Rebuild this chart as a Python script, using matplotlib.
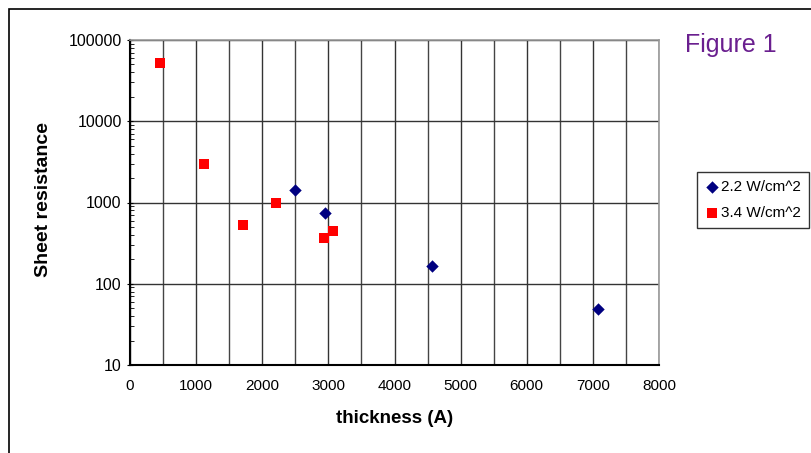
import numpy as np
import matplotlib.pyplot as plt
from matplotlib.patches import Rectangle
from matplotlib.ticker import LogLocator, NullFormatter, FixedLocator

plt.rcParams['font.family'] = ['Liberation Sans', 'DejaVu Sans']

# data
thick_22 = [2495, 2950, 4565, 7075]
rs_22 = [1420, 745, 165, 49]
thick_34 = [455, 1120, 1710, 2210, 2935, 3070]
rs_34 = [52000, 3000, 525, 1000, 365, 445]
labels = ["2.2 W/cm^2", "3.4 W/cm^2"]

fig = plt.figure(figsize=(8.11, 4.53), dpi=100)
ax = fig.add_axes([130/811, 1-365/453, 529/811, 325/453])

# outer chart border
fig.patches.append(Rectangle((9/811, -0.1), 1.0, 1-9/453+0.1, transform=fig.transFigure,
                             fill=False, edgecolor='black', linewidth=1.2))

ax.scatter(thick_22, rs_22, marker='D', s=40, color='#000080', label=labels[0], zorder=3, linewidths=0)
ax.scatter(thick_34, rs_34, marker='s', s=48, color='#ff0000', label=labels[1], zorder=3, linewidths=0)

ax.set_yscale('log')
ax.set_xlim(0, 8000)
ax.set_ylim(10, 100000)
ax.set_xticks(np.arange(0, 8001, 1000))
ax.xaxis.set_minor_locator(FixedLocator(np.arange(500, 8000, 1000)))
ax.yaxis.set_major_locator(LogLocator(base=10, numticks=10))
ax.yaxis.set_minor_locator(LogLocator(base=10, subs=np.arange(2, 10), numticks=10))
ax.yaxis.set_minor_formatter(NullFormatter())
ax.yaxis.set_major_formatter(plt.FuncFormatter(lambda v, p: f"{int(round(v))}"))

ax.grid(True, which='major', axis='both', color='#333333', linewidth=1)
ax.grid(True, which='minor', axis='x', color='#444444', linewidth=1)

ax.tick_params(axis='x', which='both', length=0, pad=10, labelsize=11)
ax.tick_params(axis='y', which='major', length=4, direction='inout', labelsize=11.5, pad=4)
ax.tick_params(axis='y', which='minor', length=3, direction='in')

for side in ['top', 'right']:
    ax.spines[side].set_color('#999999')
    ax.spines[side].set_linewidth(1.2)
for side in ['left', 'bottom']:
    ax.spines[side].set_color('black')
    ax.spines[side].set_linewidth(1.5)

ax.set_xlabel("thickness (A)", fontsize=13.5, fontweight='bold', labelpad=12)
ax.set_ylabel("Sheet resistance", fontsize=14, fontweight='bold')
ax.yaxis.set_label_coords(-0.148, 0.51)

fig.text(731/811, 1-45/453, "Figure 1", color='#6a1f8f', fontsize=18,
         ha='center', va='center')

leg = ax.legend(loc='upper left', bbox_to_anchor=(697/811, 1-172/453), bbox_transform=fig.transFigure,
                frameon=True, fancybox=False, edgecolor='black', fontsize=11,
                handletextpad=0.1, borderpad=0.5, labelspacing=0.8, handlelength=1.0,
                borderaxespad=0)
leg.get_frame().set_linewidth(1)

fig.savefig("out.png", dpi=100)
